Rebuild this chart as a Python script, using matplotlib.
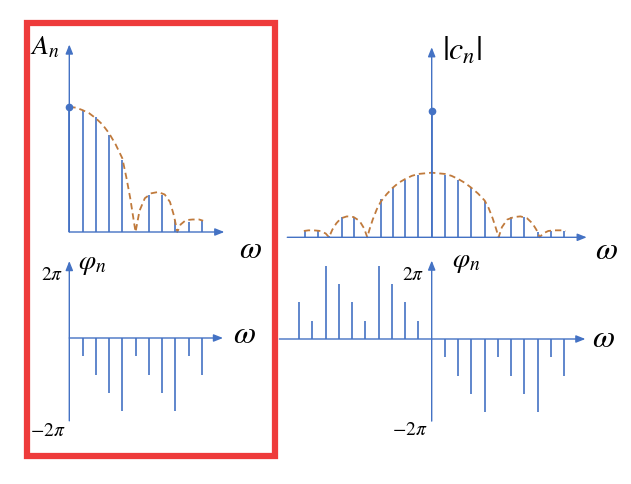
import matplotlib
matplotlib.use('Agg')
import matplotlib.pyplot as plt
import matplotlib.patches as patches

plt.rcParams['mathtext.fontset'] = 'stix'
plt.rcParams['font.family'] = 'STIXGeneral'

# ---- data ----
# one-sided amplitude spectrum A_n (A_0 = 1)
n_one = [0, 1, 2, 3, 4, 5, 6, 7, 8, 9, 10]
A_n = [1.0, 0.98, 0.92, 0.78, 0.58, 0.0, 0.30, 0.30, 0.10, 0.08, 0.09]
# dashed envelope of A_n
envA_x = [0, 0.5, 1, 1.5, 2, 2.5, 3, 3.5, 4, 4.3, 4.6, 4.85, 5.0,
          5.3, 5.7, 6.2, 6.7, 7.2, 7.6, 7.9, 8.15,
          8.4, 8.8, 9.3, 9.8, 10.1]
envA_y = [1.0, 0.995, 0.975, 0.95, 0.91, 0.86, 0.79, 0.70, 0.59, 0.44, 0.27, 0.10, 0.0,
          0.17, 0.27, 0.31, 0.32, 0.30, 0.24, 0.13, 0.0,
          0.06, 0.095, 0.10, 0.10, 0.09]

# one-sided phase spectrum (units of pi)
n_phase = [1, 2, 3, 4, 5, 6, 7, 8, 9, 10]
phi_one = [-0.25, -0.5, -0.75, -1.0, -0.25, -0.5, -0.75, -1.0, -0.25, -0.5]

# two-sided amplitude spectrum |c_n| (c_0 = A_0 = 1)
w_pos = [1, 2, 3, 4, 5, 6, 7, 8, 9, 10]
c_pos = [0.495, 0.455, 0.39, 0.29, 0.0, 0.158, 0.158, 0.04, 0.053, 0.053]
w_neg = [-1, -2, -2.95, -3.85, -4.85, -5.85, -6.8, -7.75, -8.6, -9.6]
c_neg = [0.495, 0.455, 0.39, 0.30, 0.0, 0.158, 0.158, 0.01, 0.05, 0.058]
c_0 = 1.0
envC_x = [-9.65, -9.3, -8.9, -8.4, -8.0, -7.75,
          -7.5, -7.2, -6.85, -6.4, -5.9, -5.45, -5.1, -4.86,
          -4.7, -4.45, -4.15, -3.85, -3.4, -2.95, -2.5, -2.0, -1.5, -1.0, -0.5,
          0, 0.5, 1, 1.5, 2, 2.5, 3, 3.5, 4, 4.3, 4.6, 4.85, 5.05,
          5.3, 5.7, 6.2, 6.7, 7.2, 7.6, 7.9, 8.15,
          8.4, 8.8, 9.3, 9.8, 10.1]
envC_y = [0.05, 0.055, 0.055, 0.05, 0.03, 0.0,
          0.06, 0.11, 0.15, 0.165, 0.16, 0.13, 0.07, 0.0,
          0.06, 0.14, 0.22, 0.28, 0.34, 0.39, 0.43, 0.46, 0.485, 0.50, 0.505,
          0.51, 0.505, 0.50, 0.485, 0.46, 0.43, 0.39, 0.345, 0.29, 0.23, 0.15, 0.07, 0.0,
          0.08, 0.14, 0.16, 0.165, 0.15, 0.11, 0.06, 0.0,
          0.03, 0.05, 0.055, 0.055, 0.05]

# two-sided phase spectrum (units of pi)
n_two_neg = [-10, -9, -8, -7, -6, -5, -4, -3, -2, -1]
phi_neg = [0.5, 0.25, 1.0, 0.75, 0.5, 0.25, 1.0, 0.75, 0.5, 0.25]
n_two_pos = [1, 2, 3, 4, 5, 6, 7, 8, 9, 10]
phi_pos = [-0.25, -0.5, -0.75, -1.0, -0.25, -0.5, -0.75, -1.0, -0.25, -0.5]

BLUE = '#4472C4'
ORANGE = '#C07A3C'
RED = '#EE3B3B'

W, H = 631, 485
SX = 13.25  # px per harmonic

fig = plt.figure(figsize=(W / 100, H / 100), dpi=100)
fig.patch.set_facecolor('white')


def panel(ox, oy, xlo, xhi, ylo, yhi, sy):
    left = ox + xlo * SX
    right = ox + xhi * SX
    top = oy - yhi * sy
    bottom = oy - ylo * sy
    ax = fig.add_axes([left / W, 1 - bottom / H, (right - left) / W, (bottom - top) / H])
    ax.set_xlim(xlo, xhi)
    ax.set_ylim(ylo, yhi)
    ax.set_axis_off()
    return ax


def arrow(ax, start, end):
    ax.annotate('', xy=end, xytext=start,
                arrowprops=dict(arrowstyle='-|>,head_length=0.55,head_width=0.22',
                                color=BLUE, lw=1.0, shrinkA=0, shrinkB=0),
                annotation_clip=False)


def label(x, y, s, size, **kw):
    fig.text(x / W, 1 - y / H, s, fontsize=size, ha='center', va='center', **kw)


# top left: A_n
ax1 = panel(69.3, 233, -1, 12.5, -0.1, 1.6, 125)
arrow(ax1, (0, 0), (11.7, 0))
arrow(ax1, (0, 0), (0, 1.5))
ax1.vlines(n_one, 0, A_n, color=BLUE, lw=1.2)
ax1.plot(envA_x, envA_y, color=ORANGE, lw=1.3, ls=(0, (3.5, 2.2)))
ax1.plot([0], [A_n[0]], 'o', color=BLUE, ms=4.5)

# bottom left: phase
ax2 = panel(69.3, 339, -1, 12.5, -1.3, 1.2, 73.3)
arrow(ax2, (0, 0), (11.6, 0))
arrow(ax2, (0, -1.13), (0, 1.05))
ax2.vlines(n_phase, 0, phi_one, color=BLUE, lw=1.2)

# top right: |c_n|
ax3 = panel(431.7, 238.3, -12, 12.5, -0.1, 1.6, 126.7)
arrow(ax3, (-10.9, 0), (11.7, 0))
arrow(ax3, (0, 0), (0, 1.5))
ax3.vlines(w_pos, 0, c_pos, color=BLUE, lw=1.2)
ax3.vlines(w_neg, 0, c_neg, color=BLUE, lw=1.2)
ax3.plot(envC_x, envC_y, color=ORANGE, lw=1.3, ls=(0, (3.5, 2.2)))
ax3.vlines([0], 0, [c_0], color=BLUE, lw=1.2)
ax3.plot([0], [c_0], 'o', color=BLUE, ms=4.5)

# bottom right: phase
ax4 = panel(431.7, 340, -12, 12.5, -1.3, 1.2, 73.3)
arrow(ax4, (-11.5, 0), (11.6, 0))
arrow(ax4, (0, -1.12), (0, 1.07))
ax4.vlines(n_two_neg, 0, phi_neg, color=BLUE, lw=1.2)
ax4.vlines(n_two_pos, 0, phi_pos, color=BLUE, lw=1.2)

# labels
label(45, 48, r'$A_n$', 20)
label(250, 250, r'$\omega$', 23)
label(606, 251, r'$\omega$', 23)
label(244, 335, r'$\omega$', 23)
label(603, 339, r'$\omega$', 23)
label(92, 264, r'$\varphi_n$', 20)
label(466, 262, r'$\varphi_n$', 20)
label(445, 52, r'$|$', 25)
label(461, 52, r'$c_n$', 23)
label(478, 52, r'$|$', 25)
label(52, 275, r'$2\pi$', 14)
label(48, 431, r'$-2\pi$', 14)
label(413, 275, r'$2\pi$', 14)
label(410, 430, r'$-2\pi$', 14)

# red frame around the one-sided spectra
fig.add_artist(patches.Rectangle((27 / W, 1 - 457 / H), 247.5 / W, 433 / H,
                                 transform=fig.transFigure, fill=False,
                                 edgecolor=RED, lw=4.5))

fig.savefig('out.png', dpi=100, facecolor='white')
